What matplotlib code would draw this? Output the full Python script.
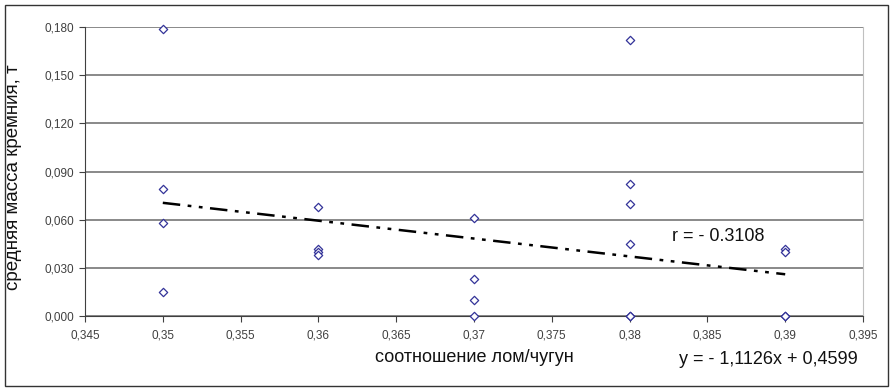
import numpy as np
import matplotlib
matplotlib.use("Agg")
import matplotlib.pyplot as plt
from matplotlib.patches import Rectangle
from matplotlib.ticker import FuncFormatter, MultipleLocator

plt.rcParams['font.family'] = ['Liberation Sans', 'DejaVu Sans']

# данные: соотношение лом/чугун и масса кремния
ratio = [0.35, 0.35, 0.35, 0.35,
         0.36, 0.36, 0.36, 0.36,
         0.37, 0.37, 0.37, 0.37,
         0.38, 0.38, 0.38, 0.38, 0.38, 0.38,
         0.39, 0.39, 0.39, 0.39]
mass = [0.179, 0.079, 0.058, 0.015,
        0.068, 0.042, 0.040, 0.038,
        0.061, 0.023, 0.010, 0.000,
        0.172, 0.082, 0.070, 0.045, 0.000, 0.000,
        0.042, 0.040, 0.000, 0.000]

slope = -1.1126
intercept = 0.4599
r_text = "r = - 0.3108"
eq_text = "y = - 1,1126x + 0,4599"

fig = plt.figure(figsize=(8.95, 3.91), dpi=100)
frame = Rectangle((5 / 895, 5 / 391), 883 / 895, 381 / 391,
                  transform=fig.transFigure, fill=False,
                  edgecolor="#333333", linewidth=1.0)
fig.patches.append(frame)

ax = fig.add_axes([85 / 895, 75 / 391, 778 / 895, 289 / 391])
ax.set_xlim(0.345, 0.395)
ax.set_ylim(0.0, 0.180)

ax.yaxis.set_major_locator(MultipleLocator(0.030))
ax.xaxis.set_major_locator(MultipleLocator(0.005))
ax.yaxis.set_major_formatter(FuncFormatter(lambda v, p: f"{v:.3f}".replace(".", ",")))
ax.xaxis.set_major_formatter(FuncFormatter(lambda v, p: f"{round(v, 3):g}".replace(".", ",")))
ax.grid(axis="y", color="#808080", linewidth=1.3)
ax.set_axisbelow(True)

ax.spines["top"].set_visible(False)
ax.spines["right"].set_color("#c0c0c0")
ax.spines["left"].set_color("#404040")
ax.spines["bottom"].set_color("#404040")
ax.tick_params(axis="both", labelsize=8.5, colors="#404040", length=4, width=0.8)
ax.tick_params(axis="x", pad=6)

ax.scatter(ratio, mass, marker="D", s=18, facecolors="white",
           edgecolors="#333399", linewidths=0.9, zorder=3, clip_on=False)

xs = np.array([min(ratio), max(ratio)])
ax.plot(xs, slope * xs + intercept, color="black", linewidth=1.8,
        dashes=(7, 3, 1.5, 3, 1.5, 3), zorder=4)

ax.text(0.3827, 0.0495, r_text, fontsize=13, ha="left", va="center", color="#111111")
fig.text(768 / 895, 31 / 391, eq_text, fontsize=13, ha="center", va="center", color="#111111")
fig.text(474 / 895, 33 / 391, "соотношение лом/чугун", fontsize=13, ha="center", va="center",
         color="#111111")
fig.text(14 / 895, 214 / 391, "средняя масса кремния, т", fontsize=13.5, rotation=90,
         ha="center", va="center", color="#111111")

fig.savefig("out.png", dpi=100)
